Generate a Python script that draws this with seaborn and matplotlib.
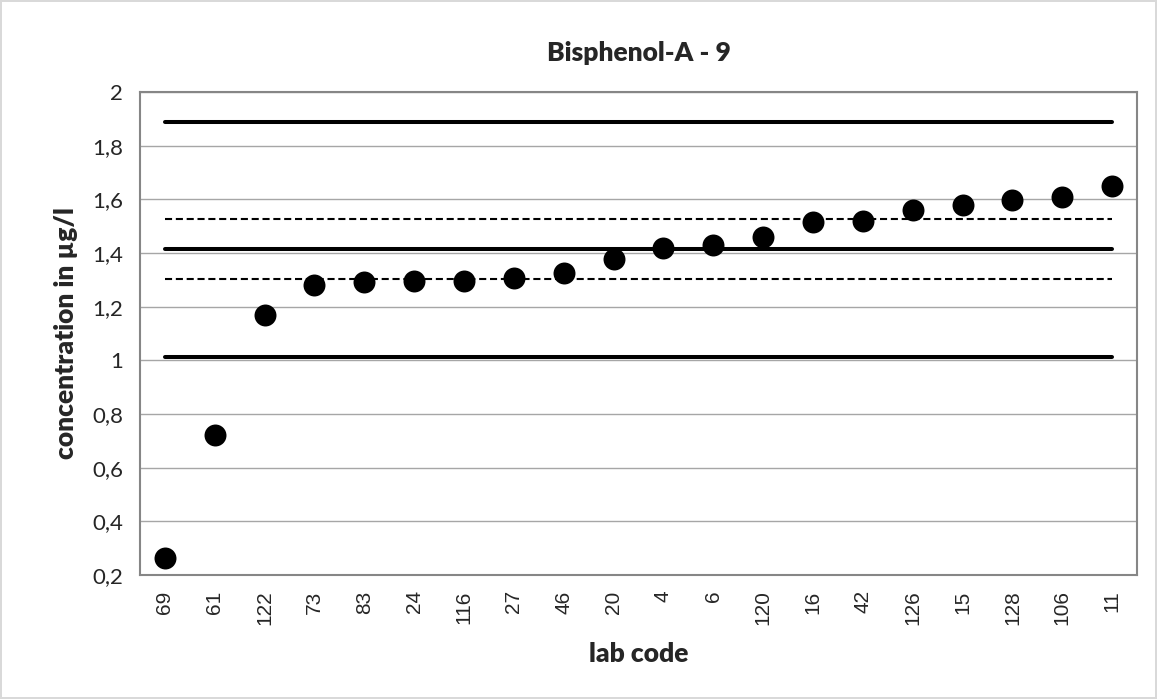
import matplotlib
matplotlib.use("Agg")
import matplotlib.pyplot as plt
import seaborn as sns
import pandas as pd
from matplotlib.ticker import MultipleLocator, FixedLocator

# data
lab_codes = ["69", "61", "122", "73", "83", "24", "116", "27", "46", "20",
             "4", "6", "120", "16", "42", "126", "15", "128", "106", "11"]
concentration = [0.265, 0.72, 1.17, 1.282, 1.293, 1.295, 1.297, 1.305, 1.326, 1.377,
                 1.418, 1.428, 1.459, 1.514, 1.518, 1.559, 1.579, 1.598, 1.608, 1.648]

assigned_value = 1.415
tolerance_limits = [1.012, 1.888]      # solid lines
uncertainty_limits = [1.303, 1.528]    # dashed lines

df = pd.DataFrame({"lab": lab_codes, "conc": concentration})

sns.set_style("white")
plt.rcParams["font.family"] = ["Lato", "DejaVu Sans"]

fig = plt.figure(figsize=(11.57, 6.99), dpi=100)
fig.patch.set_edgecolor("#d9d9d9")
fig.patch.set_linewidth(1.5)
ax = fig.add_axes([140 / 1157, 124 / 699, 997 / 1157, 483 / 699])

# reference lines across all labs
for val in tolerance_limits + [assigned_value]:
    sns.lineplot(x=lab_codes, y=[val] * len(lab_codes), ax=ax, color="black",
                 linewidth=2.9, solid_capstyle="round", sort=False, errorbar=None, zorder=2)
for val in uncertainty_limits:
    sns.lineplot(x=lab_codes, y=[val] * len(lab_codes), ax=ax, color="black",
                 linewidth=1.5, linestyle=(0, (3.4, 1.8)), sort=False, errorbar=None, zorder=2)

sns.scatterplot(data=df, x="lab", y="conc", ax=ax, color="black", s=250,
                linewidth=0, zorder=3)

ax.set_xlim(-0.5, len(lab_codes) - 0.5)
ax.set_ylim(0.2, 2.0)
ax.yaxis.set_major_locator(MultipleLocator(0.2))
ax.set_yticks(ax.get_yticks())
ax.set_yticklabels([f"{t:g}".replace(".", ",") for t in ax.get_yticks()], fontsize=16)
ax.set_ylim(0.2, 2.0)

ax.set_xticks(range(len(lab_codes)))
ax.set_xticklabels(lab_codes, rotation=90, fontsize=15)
ax.tick_params(axis="x", which="major", length=0, pad=11, labelfontfamily="Liberation Sans")
ax.xaxis.set_minor_locator(FixedLocator([i - 0.5 for i in range(len(lab_codes) + 1)]))
ax.tick_params(axis="x", which="minor", length=7, width=1, color="#868686", direction="out")
ax.tick_params(axis="y", length=7, width=1, color="#868686", direction="out", pad=5)

ax.grid(axis="y", color="#a6a6a6", linewidth=1)
ax.set_axisbelow(True)
for side in ["left", "bottom", "top", "right"]:
    ax.spines[side].set_color("#868686")
    ax.spines[side].set_linewidth(1.5)

ax.set_title("Bisphenol-A - 9", fontsize=19, fontweight="heavy", pad=22)
ax.set_xlabel("lab code", fontsize=19, fontweight="heavy", labelpad=12)
ax.set_ylabel("concentration in µg/l", fontsize=19, fontweight="heavy", labelpad=10)

fig.savefig("out.png", dpi=100, edgecolor=fig.get_edgecolor())
